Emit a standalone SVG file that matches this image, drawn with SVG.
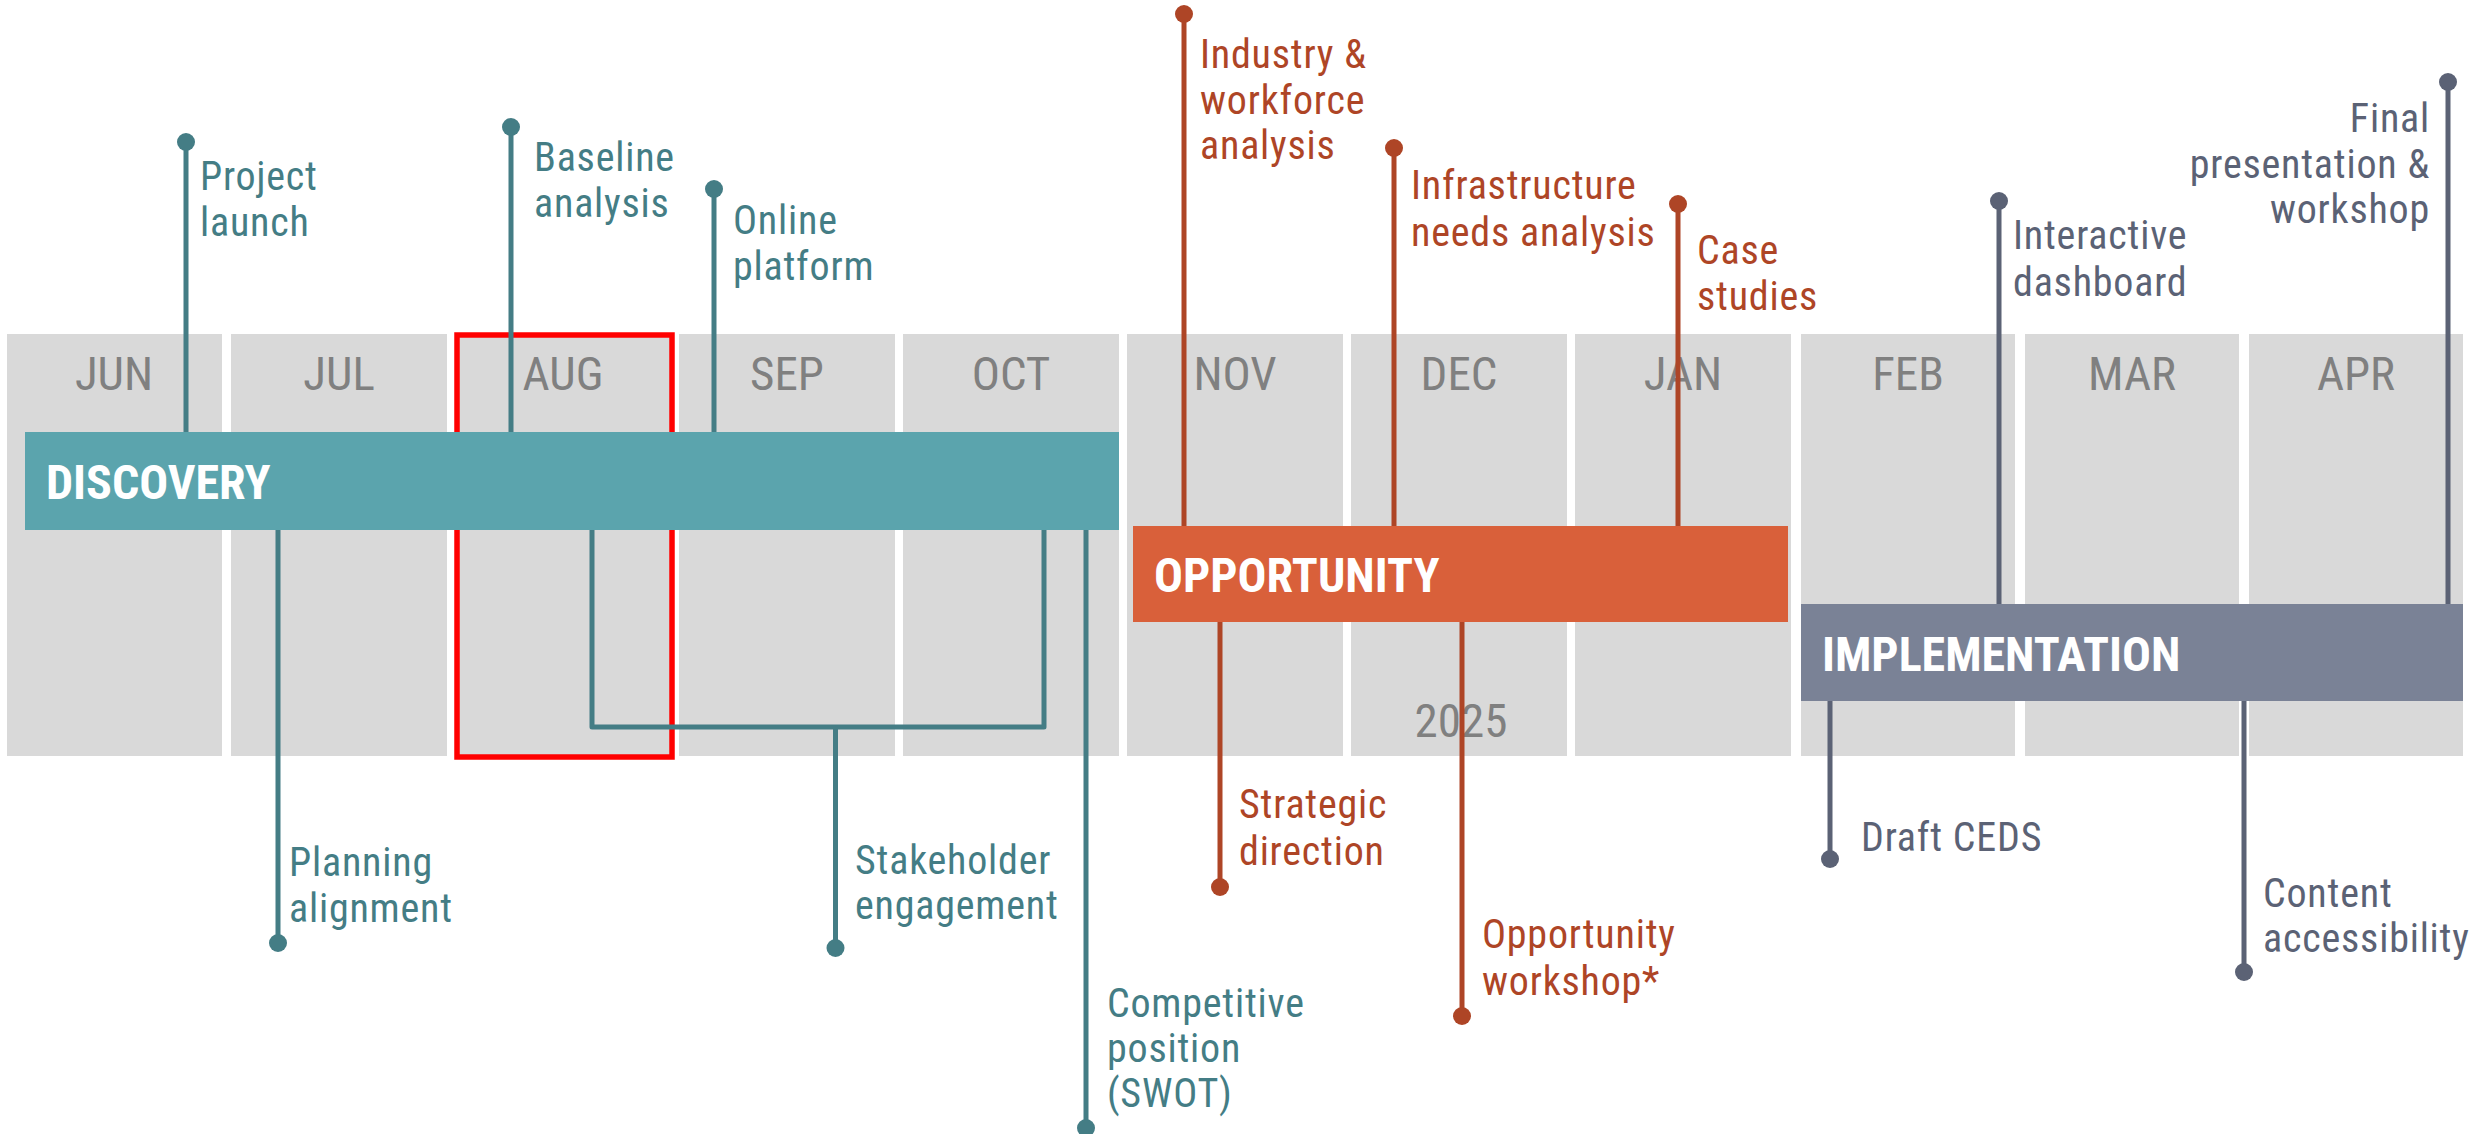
<svg xmlns="http://www.w3.org/2000/svg" width="2481" height="1134" viewBox="0 0 2481 1134">
<style>
  text { font-family: "Roboto Condensed", Roboto, "Liberation Sans", sans-serif; font-stretch: condensed; }
  .month { fill: #d9d9d9; }
  .mlab { font-size: 47px; fill: #808080; text-anchor: middle; }
  .bar-lab { font-size: 48px; font-weight: bold; fill: #ffffff; }
  .lab { font-size: 40px; letter-spacing: 0.8px; }
  .teal { stroke: #447d85; fill: none; stroke-width: 5; stroke-linejoin: round; }
  .tealD { fill: #447d85; }
  .rust { stroke: #ae4526; fill: none; stroke-width: 5; }
  .rustD { fill: #ae4526; }
  .slate { stroke: #5b6275; fill: none; stroke-width: 5; }
  .slateD { fill: #5b6275; }
</style>

<g id="months">
  <rect class="month" x="7" y="334" width="215" height="422"/>
  <rect class="month" x="231" y="334" width="216" height="422"/>
  <rect class="month" x="455" y="334" width="216" height="422"/>
  <rect class="month" x="679" y="334" width="216" height="422"/>
  <rect class="month" x="903" y="334" width="216" height="422"/>
  <rect class="month" x="1127" y="334" width="216" height="422"/>
  <rect class="month" x="1351" y="334" width="216" height="422"/>
  <rect class="month" x="1575" y="334" width="216" height="422"/>
  <rect class="month" x="1801" y="334" width="214" height="422"/>
  <rect class="month" x="2025" y="334" width="214" height="422"/>
  <rect class="month" x="2249" y="334" width="214" height="422"/>
  <text class="mlab" x="114" y="390">JUN</text>
  <text class="mlab" x="339" y="390">JUL</text>
  <text class="mlab" x="563" y="390">AUG</text>
  <text class="mlab" x="787" y="390">SEP</text>
  <text class="mlab" x="1011" y="390">OCT</text>
  <text class="mlab" x="1235" y="390">NOV</text>
  <text class="mlab" x="1459" y="390">DEC</text>
  <text class="mlab" x="1683" y="390">JAN</text>
  <text class="mlab" x="1908" y="390">FEB</text>
  <text class="mlab" x="2132" y="390">MAR</text>
  <text class="mlab" x="2356" y="390">APR</text>
  <text class="mlab" x="1461" y="737">2025</text>
</g>

<rect id="highlight" x="457" y="335" width="215" height="422" fill="none" stroke="#ff0000" stroke-width="5.5"/>

<g id="connectors">
  <!-- discovery -->
  <path class="teal" d="M186 142V434"/>
  <path class="teal" d="M511 127V434"/>
  <path class="teal" d="M714 189V436"/>
  <path class="teal" d="M278 528V943"/>
  <path class="teal" d="M592 528V727H1044V528M835.5 727V948"/>
  <path class="teal" d="M1086 528V1128"/>
  <!-- opportunity -->
  <path class="rust" d="M1184 14V528"/>
  <path class="rust" d="M1394 148V528"/>
  <path class="rust" d="M1678 204V528"/>
  <path class="rust" d="M1220 620V887"/>
  <path class="rust" d="M1462 620V1016"/>
  <!-- implementation -->
  <path class="slate" d="M1999 201V608"/>
  <path class="slate" d="M2448 82V606"/>
  <path class="slate" d="M1830 699V859"/>
  <path class="slate" d="M2244 699V972"/>
</g>

<g id="discovery">
  <rect x="25" y="432" width="1094" height="98" fill="#5ba4ad"/>
  <text class="bar-lab" x="46" y="499">DISCOVERY</text>
</g>
<g id="opportunity">
  <rect x="1133" y="526" width="655" height="96" fill="#d9603a"/>
  <text class="bar-lab" x="1154" y="592">OPPORTUNITY</text>
</g>
<g id="implementation">
  <rect x="1801" y="604" width="662" height="97" fill="#7a8296"/>
  <text class="bar-lab" x="1822" y="671">IMPLEMENTATION</text>
</g>

<g id="m-project-launch">
  <circle class="tealD" cx="186" cy="142" r="9"/>
  <text class="lab tealD" x="200" y="190">Project<tspan x="200" y="236">launch</tspan></text>
</g>
<g id="m-baseline-analysis">
  <circle class="tealD" cx="511" cy="127" r="9"/>
  <text class="lab tealD" x="534" y="171">Baseline<tspan x="534" y="217">analysis</tspan></text>
</g>
<g id="m-online-platform">
  <circle class="tealD" cx="714" cy="189" r="9"/>
  <text class="lab tealD" x="733" y="234">Online<tspan x="733" y="280">platform</tspan></text>
</g>
<g id="m-planning-alignment">
  <circle class="tealD" cx="278" cy="943" r="9"/>
  <text class="lab tealD" x="289" y="876">Planning<tspan x="289" y="922">alignment</tspan></text>
</g>
<g id="m-stakeholder-engagement">
  <circle class="tealD" cx="835.5" cy="948" r="9"/>
  <text class="lab tealD" x="855" y="874">Stakeholder<tspan x="855" y="919">engagement</tspan></text>
</g>
<g id="m-competitive-position">
  <circle class="tealD" cx="1086" cy="1128" r="9"/>
  <text class="lab tealD" x="1107" y="1017">Competitive<tspan x="1107" y="1062">position</tspan><tspan x="1107" y="1107">(SWOT)</tspan></text>
</g>

<g id="m-industry-workforce">
  <circle class="rustD" cx="1184" cy="14" r="9"/>
  <text class="lab rustD" x="1200" y="68">Industry &amp;<tspan x="1200" y="114">workforce</tspan><tspan x="1200" y="159">analysis</tspan></text>
</g>
<g id="m-infrastructure">
  <circle class="rustD" cx="1394" cy="148" r="9"/>
  <text class="lab rustD" x="1411" y="199">Infrastructure<tspan x="1411" y="246">needs analysis</tspan></text>
</g>
<g id="m-case-studies">
  <circle class="rustD" cx="1678" cy="204" r="9"/>
  <text class="lab rustD" x="1697" y="264">Case<tspan x="1697" y="310">studies</tspan></text>
</g>
<g id="m-strategic-direction">
  <circle class="rustD" cx="1220" cy="887" r="9"/>
  <text class="lab rustD" x="1239" y="818">Strategic<tspan x="1239" y="865">direction</tspan></text>
</g>
<g id="m-opportunity-workshop">
  <circle class="rustD" cx="1462" cy="1016" r="9"/>
  <text class="lab rustD" x="1482" y="948">Opportunity<tspan x="1482" y="995">workshop*</tspan></text>
</g>

<g id="m-interactive-dashboard">
  <circle class="slateD" cx="1999" cy="201" r="9"/>
  <text class="lab slateD" x="2013" y="249">Interactive<tspan x="2013" y="296">dashboard</tspan></text>
</g>
<g id="m-final-presentation">
  <circle class="slateD" cx="2448" cy="82" r="9"/>
  <text class="lab slateD" x="2430" y="132" text-anchor="end">Final<tspan x="2430" y="178">presentation &amp;</tspan><tspan x="2430" y="223">workshop</tspan></text>
</g>
<g id="m-draft-ceds">
  <circle class="slateD" cx="1830" cy="859" r="9"/>
  <text class="lab slateD" x="1861" y="851">Draft CEDS</text>
</g>
<g id="m-content-accessibility">
  <circle class="slateD" cx="2244" cy="972" r="9"/>
  <text class="lab slateD" x="2263" y="907">Content<tspan x="2263" y="952">accessibility</tspan></text>
</g>
</svg>
